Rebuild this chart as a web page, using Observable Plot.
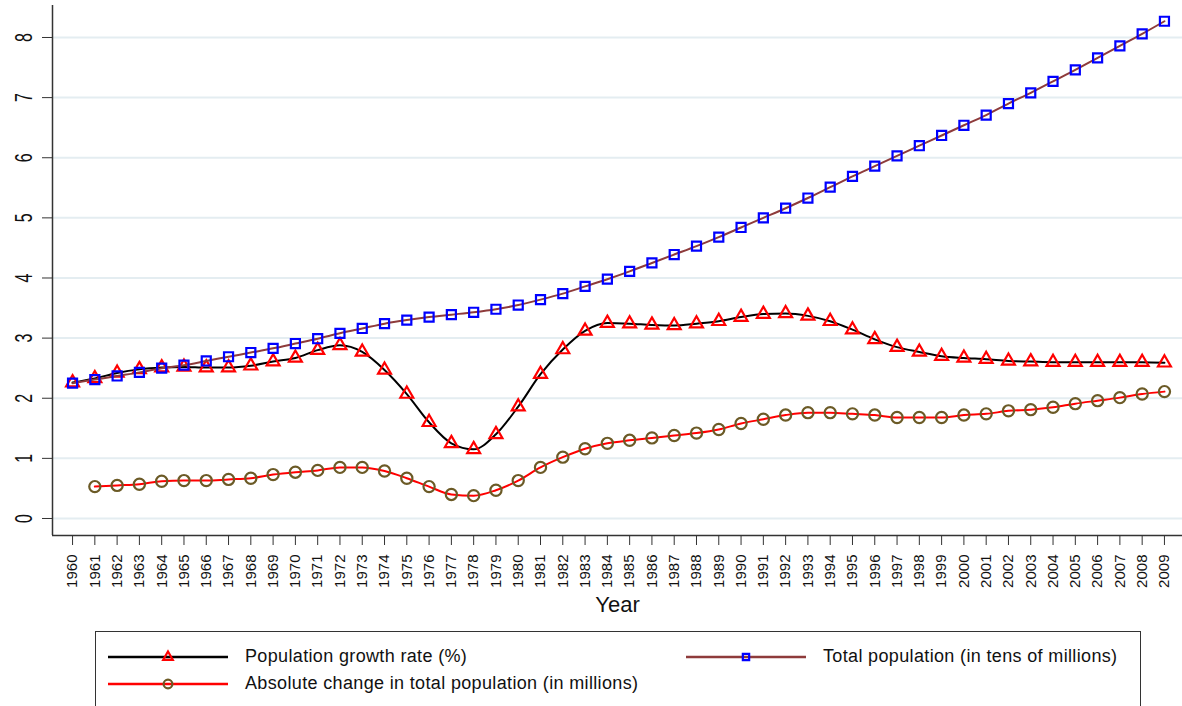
<!DOCTYPE html>
<html><head><meta charset="utf-8">
<script src="https://cdn.jsdelivr.net/npm/d3@7"></script>
<script src="https://cdn.jsdelivr.net/npm/@observablehq/plot@0.6"></script>
<style>
body{margin:0;background:#fff;font-family:"Liberation Sans",Arial,sans-serif;}
#wrap{position:relative;width:1182px;height:706px;overflow:hidden;background:#fff;}
#legend{position:absolute;left:95px;top:631px;width:1046px;height:110px;border:1.5px solid #333;box-sizing:border-box;background:#fff;}
.item{position:absolute;display:flex;align-items:center;font-size:18px;letter-spacing:0.35px;color:#111;white-space:nowrap;}
.item svg{margin-right:17px;}
</style></head><body><div id="wrap"><div id="chart"></div><div id="legend"></div></div>
<script>
const years = [1960,1961,1962,1963,1964,1965,1966,1967,1968,1969,
  1970,1971,1972,1973,1974,1975,1976,1977,1978,1979,
  1980,1981,1982,1983,1984,1985,1986,1987,1988,1989,
  1990,1991,1992,1993,1994,1995,1996,1997,1998,1999,
  2000,2001,2002,2003,2004,2005,2006,2007,2008,2009];
// Population growth rate (%)
const growthRate = [2.26,2.33,2.42,2.48,2.51,2.52,2.51,2.51,2.54,2.61,
  2.67,2.80,2.88,2.77,2.47,2.07,1.60,1.25,1.15,1.40,
  1.86,2.40,2.81,3.12,3.25,3.24,3.22,3.21,3.24,3.28,
  3.35,3.40,3.41,3.37,3.28,3.14,2.98,2.85,2.77,2.70,
  2.67,2.65,2.62,2.61,2.60,2.60,2.60,2.60,2.60,2.59];
// Total population (in tens of millions)
const totalPop = [2.25,2.31,2.37,2.43,2.50,2.55,2.62,2.69,2.76,2.83,
  2.91,2.99,3.08,3.16,3.24,3.30,3.35,3.39,3.43,3.48,
  3.55,3.64,3.74,3.86,3.98,4.11,4.25,4.39,4.53,4.68,
  4.84,5.00,5.16,5.33,5.51,5.69,5.86,6.03,6.20,6.37,
  6.54,6.71,6.90,7.08,7.27,7.46,7.66,7.86,8.06,8.27];
// Absolute change in total population (in millions)
const absChange = [null,0.53,0.55,0.57,0.62,0.63,0.63,0.65,0.67,0.73,
  0.77,0.80,0.85,0.85,0.79,0.67,0.53,0.40,0.38,0.47,
  0.63,0.85,1.02,1.16,1.25,1.30,1.34,1.38,1.42,1.48,
  1.58,1.65,1.72,1.76,1.76,1.74,1.72,1.68,1.68,1.68,
  1.72,1.74,1.79,1.81,1.85,1.91,1.96,2.01,2.07,2.11];
const yTicks = [0,1,2,3,4,5,6,7,8];
const xTickLabels = years.map(String);

const seriesNames = ["Population growth rate (%)","Total population (in tens of millions)","Absolute change in total population (in millions)"];
const C = {growthLine:"#000000", growthMark:"#ff0000", totalLine:"#8e3b3b", totalMark:"#0000ff", absLine:"#ff0000", absMark:"#6b5a26"};

const rows = years.map((y,i)=>({year:y, growth:growthRate[i], total:totalPop[i], abs:absChange[i]}));
const absRows = rows.filter(d=>d.abs!=null);

const xDomain=[1959.10, 2009.81], yDomain=[-0.283, 8.532];

const plot = Plot.plot({
  width:1182, height:626, marginLeft:52, marginRight:0, marginTop:5, marginBottom:91,
  style:{fontFamily:"'Liberation Sans', Arial, sans-serif", background:"white", color:"#111", overflow:"visible"},
  x:{domain:xDomain},
  y:{domain:yDomain},
  marks:[
    Plot.gridY(yTicks,{stroke:"#e4edf1", strokeOpacity:1, strokeWidth:2}),
    Plot.axisY(yTicks,{tickSize:10, tickPadding:13, tickRotate:-90, fontSize:16, label:null, tickFormat:d=>String(d), stroke:"#333"}),
    Plot.axisX(years,{tickSize:10, tickPadding:9, tickRotate:-90, fontSize:15, label:null, tickFormat:(d,i)=>xTickLabels[i], stroke:"#333"}),
    Plot.ruleX([xDomain[0]],{stroke:"#333", strokeWidth:1.5}),
    Plot.ruleY([yDomain[0]],{stroke:"#333", strokeWidth:1.5}),
    Plot.line(rows,{x:"year",y:"growth",stroke:C.growthLine,strokeWidth:2,curve:"monotone-x"}),
    Plot.dot(rows,{x:"year",y:"growth",symbol:"triangle",r:4.8,stroke:C.growthMark,strokeWidth:2.2,fill:"none"}),
    Plot.line(absRows,{x:"year",y:"abs",stroke:C.absLine,strokeWidth:2,curve:"monotone-x"}),
    Plot.dot(absRows,{x:"year",y:"abs",symbol:"circle",r:5.6,stroke:C.absMark,strokeWidth:2.2,fill:"none"}),
    Plot.line(rows,{x:"year",y:"total",stroke:C.totalLine,strokeWidth:2,curve:"monotone-x"}),
    Plot.dot(rows,{x:"year",y:"total",symbol:"square",r:5.1,stroke:C.totalMark,strokeWidth:2.2,fill:"none"}),
    Plot.text(["Year"],{frameAnchor:"bottom", dy:76, fontSize:22, fill:"#111"})
  ]
});
document.getElementById("chart").appendChild(plot);

// stretch y tick labels horizontally (sideways digits in the reference are wide)
d3.select(plot).selectAll('g[aria-label="y-axis tick label"] text').each(function(){
  const b = this.getBBox();
  const cx = b.x + b.width/2, cy = b.y + b.height/2;
  const t = this.getAttribute("transform") || "";
  this.setAttribute("transform", t + ` translate(${cx},${cy}) scale(1,1.45) translate(${-cx},${-cy})`);
});

// legend
const legend = d3.select("#legend");
function addItem(left, top, line, mark, symbol, size, label){
  const it = legend.append("div").attr("class","item").style("left",left+"px").style("top",top+"px");
  const s = it.append("svg").attr("width",120).attr("height",20);
  s.append("line").attr("x1",0).attr("x2",120).attr("y1",10).attr("y2",10).attr("stroke",line).attr("stroke-width",2.5);
  s.append("path").attr("transform","translate(60,10)").attr("d",d3.symbol(symbol,size)()).attr("fill","none").attr("stroke",mark).attr("stroke-width",2.2);
  it.append("span").text(label);
}
addItem(12, 14, C.growthLine, C.growthMark, d3.symbolTriangle, 40, seriesNames[0]);
addItem(590, 14, C.totalLine, C.totalMark, d3.symbolSquare, 40, seriesNames[1]);
addItem(12, 41, C.absLine, C.absMark, d3.symbolCircle, 60, seriesNames[2]);
</script></body></html>
